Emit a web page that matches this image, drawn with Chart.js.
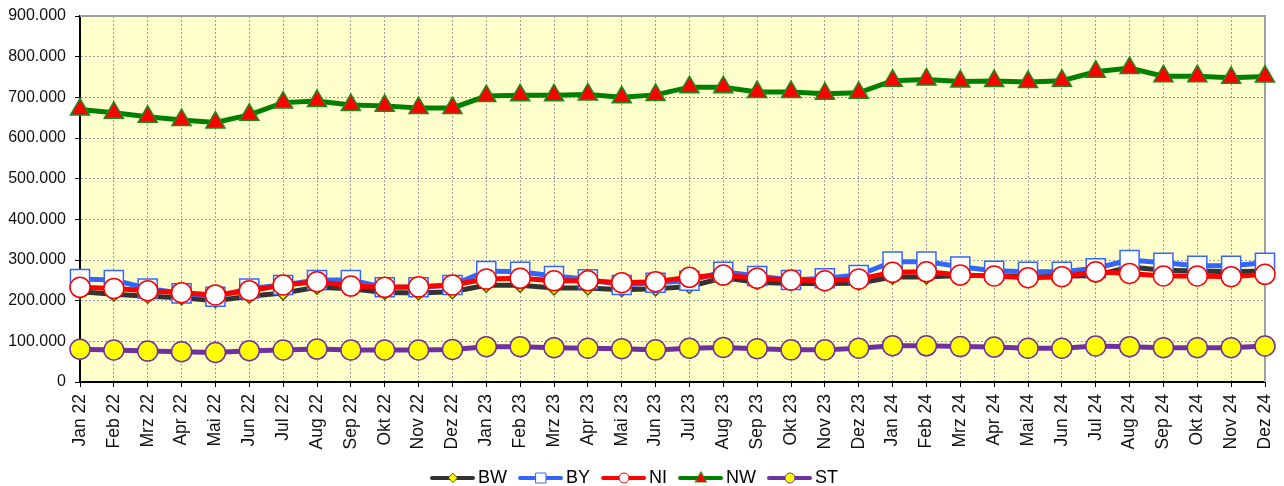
<!DOCTYPE html>
<html lang="de">
<head>
<meta charset="utf-8">
<title>Monatswerte BW BY NI NW ST</title>
<script src="https://cdn.jsdelivr.net/npm/chart.js@4.4.1/dist/chart.umd.min.js"></script>
<style>
    html, body { margin: 0; padding: 0; background: #ffffff; }
    #wrap { width: 1284px; height: 486px; }
</style>
</head>
<body>
<div id="wrap"><canvas id="monatsChart" width="1284" height="486"></canvas></div>
<script>
// Categories (x axis)
const monate = [
    'Jan 22', 'Feb 22', 'Mrz 22', 'Apr 22', 'Mai 22', 'Jun 22', 'Jul 22', 'Aug 22', 'Sep 22', 'Okt 22', 'Nov 22', 'Dez 22',
    'Jan 23', 'Feb 23', 'Mrz 23', 'Apr 23', 'Mai 23', 'Jun 23', 'Jul 23', 'Aug 23', 'Sep 23', 'Okt 23', 'Nov 23', 'Dez 23',
    'Jan 24', 'Feb 24', 'Mrz 24', 'Apr 24', 'Mai 24', 'Jun 24', 'Jul 24', 'Aug 24', 'Sep 24', 'Okt 24', 'Nov 24', 'Dez 24'
];

// Series values
const werteBW = [
    222000, 216000, 211000, 207000, 200000, 211000, 219000, 233000, 229000, 220000, 219000, 222000,
    238000, 238000, 231000, 231000, 227000, 229000, 235000, 256000, 245000, 242000, 242000, 243000,
    258000, 258000, 262000, 262000, 258000, 260000, 262000, 283000, 275000, 273000, 271000, 273000
];
const werteBY = [
    253000, 250800, 230000, 218000, 209800, 230000, 238500, 250800, 250800, 232800, 232800, 238500,
    273000, 271000, 260700, 252500, 238500, 244000, 249000, 271000, 260700, 250800, 255000, 263000,
    296000, 296000, 283600, 273700, 271000, 271000, 279600, 300000, 293400, 286000, 286000, 293400
];
const werteNI = [
    232800, 230000, 224500, 219600, 214000, 224500, 238500, 246700, 236000, 232800, 234000, 238500,
    253000, 255000, 249000, 249000, 244000, 246700, 257400, 263000, 255000, 250800, 249000, 253000,
    269700, 271000, 263000, 260700, 256500, 259000, 271000, 267000, 260700, 260700, 259000, 264800
];
const werteNW = [
    670000, 662000, 652000, 644000, 638000, 657000, 687000, 691000, 681000, 679000, 674000, 674000,
    703000, 705000, 705000, 707000, 700000, 706000, 725000, 725000, 713000, 713000, 709000, 711000,
    741000, 744000, 739000, 740000, 738000, 741000, 763000, 772000, 752000, 752000, 748000, 751000
];
const werteST = [
    80500, 78700, 76000, 74600, 72500, 77000, 78700, 81000, 78700, 78700, 78700, 80000,
    86800, 86800, 84400, 83000, 82000, 79000, 83000, 85000, 82000, 79000, 79000, 83000,
    89300, 89000, 87000, 86000, 83000, 83000, 88500, 86800, 84500, 84500, 84500, 88500
];

// Y axis range and tick step
const yMin = 0;
const yMax = 900000;
const yStep = 100000;

const FONT = 'Arial, "Liberation Sans", sans-serif';

// Formats 900000 -> "900.000"
function formatDe(value) {
    return String(Math.round(value)).replace(/\B(?=(\d{3})+(?!\d))/g, '.');
}

// Draws a line + marker swatch for the legend
function makeLegendSwatch(lineColor, marker, fill, stroke) {
    const c = document.createElement('canvas');
    c.width = 56;
    c.height = 16;
    const g = c.getContext('2d');
    const cy = 8;
    const cx = 33;
    g.strokeStyle = lineColor;
    g.lineWidth = 4;
    g.lineCap = 'round';
    g.beginPath();
    g.moveTo(12, cy);
    g.lineTo(53, cy);
    g.stroke();

    g.fillStyle = fill;
    g.strokeStyle = stroke;
    g.lineWidth = 1;
    g.beginPath();
    if (marker === 'rectRot') {
        g.moveTo(cx, cy - 4.5);
        g.lineTo(cx + 4.5, cy);
        g.lineTo(cx, cy + 4.5);
        g.lineTo(cx - 4.5, cy);
        g.closePath();
    } else if (marker === 'rect') {
        g.rect(cx - 5, cy - 5, 10, 10);
    } else if (marker === 'triangle') {
        g.moveTo(cx, cy - 6);
        g.lineTo(cx + 5.5, cy + 4);
        g.lineTo(cx - 5.5, cy + 4);
        g.closePath();
    } else {
        g.arc(cx, cy, 5, 0, Math.PI * 2);
    }
    g.fill();
    g.stroke();
    return c;
}

// Series styling (kept separate from the values)
const serien = [
    { label: 'BW', data: werteBW, line: '#333333', marker: 'rectRot', radius: 7, fill: '#FFFF00', stroke: '#555500', order: 5 },
    { label: 'BY', data: werteBY, line: '#3366FF', marker: 'rect', radius: 13.5, fill: '#FFFFFF', stroke: '#3366FF', order: 4 },
    { label: 'NI', data: werteNI, line: '#FF0000', marker: 'circle', radius: 10, fill: '#FFFFFF', stroke: '#FF0000', order: 3 },
    { label: 'NW', data: werteNW, line: '#008000', marker: 'triangle', radius: 11, fill: '#FF0000', stroke: '#1A8A1A', order: 2 },
    { label: 'ST', data: werteST, line: '#7030A0', marker: 'circle', radius: 10, fill: '#FFFF00', stroke: '#7030A0', order: 1 }
];

const datasets = serien.map(s => ({
    label: s.label,
    data: s.data,
    order: s.order,
    borderColor: s.line,
    backgroundColor: s.line,
    borderWidth: 5,
    tension: 0,
    fill: false,
    pointStyle: s.marker,
    pointRadius: s.radius,
    pointHoverRadius: s.radius,
    pointBackgroundColor: s.fill,
    pointBorderColor: s.stroke,
    pointBorderWidth: 1.5
}));

const legendSwatches = serien.map(s => makeLegendSwatch(s.line, s.marker, s.fill, s.stroke));

// Yellow plot background plus grey frame on top and right
const plotFrame = {
    id: 'plotFrame',
    beforeDraw(chart) {
        const { ctx, chartArea: a } = chart;
        ctx.save();
        ctx.fillStyle = '#FFFFCC';
        ctx.fillRect(a.left, a.top, a.right - a.left, a.bottom - a.top);
        ctx.restore();
    },
    beforeDatasetsDraw(chart) {
        const { ctx, chartArea: a } = chart;
        ctx.save();
        ctx.strokeStyle = '#A0A0A0';
        ctx.lineWidth = 2;
        ctx.beginPath();
        ctx.moveTo(a.left, a.top);
        ctx.lineTo(a.right, a.top);
        ctx.lineTo(a.right, a.bottom);
        ctx.stroke();
        ctx.restore();
    },
    afterLayout(chart) {
        // legend text sits lower than Chart.js would put it
        if (chart.legend) {
            chart.legend.top += 11;
            chart.legend.bottom += 11;
        }
    }
};

// Shared grid / border settings for both axes
const gridOpts = {
    color: '#9A9A9A',
    lineWidth: 1,
    drawTicks: true,
    tickLength: 5,
    tickColor: '#000000',
    tickBorderDash: []
};
const borderOpts = { display: true, color: '#000000', width: 2, dash: [2, 2] };

const ctx = document.getElementById('monatsChart').getContext('2d');
new Chart(ctx, {
    type: 'line',
    data: { labels: monate, datasets: datasets },
    options: {
        responsive: false,
        animation: false,
        layout: { padding: { left: 0, right: 19, top: 16, bottom: 0 } },
        plugins: {
            tooltip: { enabled: false },
            legend: {
                position: 'bottom',
                labels: {
                    usePointStyle: true,
                    pointStyleWidth: 42,
                    padding: 8,
                    color: '#000000',
                    font: { family: FONT, size: 18 },
                    generateLabels: () => serien.map((s, i) => ({
                        text: s.label,
                        pointStyle: legendSwatches[i],
                        fillStyle: s.fill,
                        strokeStyle: s.stroke,
                        lineWidth: 0,
                        hidden: false,
                        datasetIndex: i
                    }))
                }
            }
        },
        scales: {
            x: {
                type: 'category',
                offset: false,
                afterFit: (scale) => {
                    scale.height = 68;
                    scale.paddingLeft = 0;
                    scale.paddingRight = 0;
                },
                border: borderOpts,
                grid: gridOpts,
                ticks: {
                    autoSkip: false,
                    maxRotation: 90,
                    minRotation: 90,
                    padding: 7,
                    color: '#111111',
                    font: { family: FONT, size: 17.5 }
                }
            },
            y: {
                min: yMin,
                max: yMax,
                afterFit: (scale) => {
                    scale.width = 80;
                    scale.paddingTop = 0;
                    scale.paddingBottom = 0;
                },
                border: borderOpts,
                grid: gridOpts,
                ticks: {
                    stepSize: yStep,
                    padding: 9,
                    color: '#111111',
                    font: { family: FONT, size: 16 },
                    callback: (value) => formatDe(value)
                }
            }
        }
    },
    plugins: [plotFrame]
});
</script>
</body>
</html>
